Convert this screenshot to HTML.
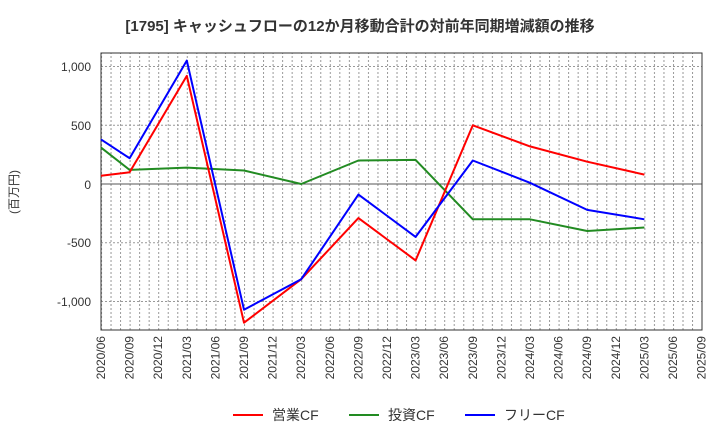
<!DOCTYPE html>
<html><head><meta charset="utf-8"><style>
body{margin:0;background:#fff;width:720px;height:440px;overflow:hidden;font-family:"Liberation Sans","Noto Sans CJK JP",sans-serif}
</style></head><body>
<svg width="720" height="440" xmlns="http://www.w3.org/2000/svg" font-family="Liberation Sans, Noto Sans CJK JP, sans-serif">
<defs><pattern id="vg" x="101" y="0" width="9.533" height="440" patternUnits="userSpaceOnUse"><line x1="0.5" y1="0" x2="0.5" y2="440" stroke="#999" stroke-width="1" stroke-dasharray="2,2"/></pattern></defs>
<text x="360" y="31" text-anchor="middle" font-size="15" font-weight="bold" fill="#333">[1795]  キャッシュフローの12か月移動合計の対前年同期増減額の推移</text>
<rect x="101" y="53" width="601" height="277" fill="url(#vg)"/>
<g stroke="#999" stroke-dasharray="2,2" stroke-width="1">
<line x1="101" x2="702" y1="66.5" y2="66.5"/><line x1="101" x2="702" y1="125.3" y2="125.3"/>
<line x1="101" x2="702" y1="242.8" y2="242.8"/><line x1="101" x2="702" y1="301.5" y2="301.5"/>
</g>
<line x1="101" x2="702" y1="184" y2="184" stroke="#555" stroke-width="1"/>
<rect x="101" y="53" width="601" height="277" fill="none" stroke="#333" stroke-width="1"/>
<g font-size="12" fill="#333" text-anchor="end">
<text x="91" y="71">1,000</text><text x="91" y="130">500</text><text x="91" y="189">0</text><text x="91" y="247">-500</text><text x="91" y="306">-1,000</text>
</g>
<text transform="translate(18,192) rotate(-90)" font-size="12" fill="#333" text-anchor="middle">(百万円)</text>
<g font-size="12" fill="#333" text-anchor="end">
<text transform="translate(105,336) rotate(-90)">2020/06</text>
<text transform="translate(133.6,336) rotate(-90)">2020/09</text>
<text transform="translate(162.2,336) rotate(-90)">2020/12</text>
<text transform="translate(190.8,336) rotate(-90)">2021/03</text>
<text transform="translate(219.4,336) rotate(-90)">2021/06</text>
<text transform="translate(248,336) rotate(-90)">2021/09</text>
<text transform="translate(276.6,336) rotate(-90)">2021/12</text>
<text transform="translate(305.2,336) rotate(-90)">2022/03</text>
<text transform="translate(333.8,336) rotate(-90)">2022/06</text>
<text transform="translate(362.4,336) rotate(-90)">2022/09</text>
<text transform="translate(391,336) rotate(-90)">2022/12</text>
<text transform="translate(419.6,336) rotate(-90)">2023/03</text>
<text transform="translate(448.2,336) rotate(-90)">2023/06</text>
<text transform="translate(476.8,336) rotate(-90)">2023/09</text>
<text transform="translate(505.4,336) rotate(-90)">2023/12</text>
<text transform="translate(534,336) rotate(-90)">2024/03</text>
<text transform="translate(562.6,336) rotate(-90)">2024/06</text>
<text transform="translate(591.2,336) rotate(-90)">2024/09</text>
<text transform="translate(619.8,336) rotate(-90)">2024/12</text>
<text transform="translate(648.4,336) rotate(-90)">2025/03</text>
<text transform="translate(677,336) rotate(-90)">2025/06</text>
<text transform="translate(705.6,336) rotate(-90)">2025/09</text>
</g>
<g fill="none" stroke-width="2" stroke-linejoin="round">
<polyline stroke="#228b22" points="101,147.6 129.6,169.9 186.8,167.6 244,170.5 301.2,184 358.4,160.5 415.6,159.9 472.8,219.3 530,219.3 587.2,231 644.4,227.5"/>
<polyline stroke="#ff0000" points="101,175.8 129.6,172.3 186.8,75.9 244,322.7 301.2,279.2 358.4,218.1 415.6,260.4 472.8,125.3 530,146.4 587.2,161.7 644.4,174.6"/>
<polyline stroke="#0000ff" points="101,139.4 129.6,158.2 186.8,60.6 244,309.7 301.2,279.2 358.4,194.6 415.6,236.9 472.8,160.5 530,182.8 587.2,209.9 644.4,219.3"/>
</g>
<g font-size="14" fill="#333">
<line x1="233" x2="263" y1="415" y2="415" stroke="#ff0000" stroke-width="2"/><text x="272" y="420">営業CF</text>
<line x1="349" x2="379" y1="415" y2="415" stroke="#228b22" stroke-width="2"/><text x="388" y="420">投資CF</text>
<line x1="465" x2="495" y1="415" y2="415" stroke="#0000ff" stroke-width="2"/><text x="504" y="420">フリーCF</text>
</g>
</svg>
</body></html>
